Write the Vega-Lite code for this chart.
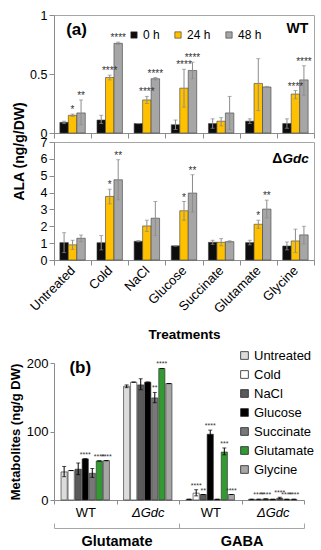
{
  "$schema": "https://vega.github.io/schema/vega-lite/v6.json",
  "padding": {"left": 9, "top": 8, "right": 4, "bottom": 4},
  "background": "white",
  "config": {
    "font": "Liberation Sans",
    "view": {"stroke": null},
    "axis": {"domainColor": "#8c8c8c", "tickColor": "#8c8c8c", "labelColor": "#000000", "titleColor": "#000000", "grid": false, "labelFontSize": 12.5}
  },
  "datasets": {
    "wt": [
      {"treatment": "Untreated", "time": "0 h", "value": 0.09, "lo": 0.08, "hi": 0.10, "sig": ""},
      {"treatment": "Untreated", "time": "24 h", "value": 0.15, "lo": 0.14, "hi": 0.16, "sig": "*"},
      {"treatment": "Untreated", "time": "48 h", "value": 0.17, "lo": 0.07, "hi": 0.28, "sig": "**"},
      {"treatment": "Cold", "time": "0 h", "value": 0.11, "lo": 0.08, "hi": 0.15, "sig": ""},
      {"treatment": "Cold", "time": "24 h", "value": 0.47, "lo": 0.45, "hi": 0.49, "sig": "****"},
      {"treatment": "Cold", "time": "48 h", "value": 0.76, "lo": 0.75, "hi": 0.77, "sig": "****"},
      {"treatment": "NaCl", "time": "0 h", "value": 0.08, "lo": 0.08, "hi": 0.08, "sig": ""},
      {"treatment": "NaCl", "time": "24 h", "value": 0.28, "lo": 0.25, "hi": 0.31, "sig": "****"},
      {"treatment": "NaCl", "time": "48 h", "value": 0.46, "lo": 0.45, "hi": 0.47, "sig": "****"},
      {"treatment": "Glucose", "time": "0 h", "value": 0.07, "lo": 0.03, "hi": 0.11, "sig": ""},
      {"treatment": "Glucose", "time": "24 h", "value": 0.38, "lo": 0.22, "hi": 0.54, "sig": "****"},
      {"treatment": "Glucose", "time": "48 h", "value": 0.53, "lo": 0.46, "hi": 0.60, "sig": "****"},
      {"treatment": "Succinate", "time": "0 h", "value": 0.08, "lo": 0.04, "hi": 0.12, "sig": ""},
      {"treatment": "Succinate", "time": "24 h", "value": 0.10, "lo": 0.06, "hi": 0.13, "sig": ""},
      {"treatment": "Succinate", "time": "48 h", "value": 0.17, "lo": 0.03, "hi": 0.31, "sig": ""},
      {"treatment": "Glutamate", "time": "0 h", "value": 0.10, "lo": 0.08, "hi": 0.12, "sig": ""},
      {"treatment": "Glutamate", "time": "24 h", "value": 0.42, "lo": 0.19, "hi": 0.63, "sig": ""},
      {"treatment": "Glutamate", "time": "48 h", "value": 0.39, "lo": 0.385, "hi": 0.395, "sig": ""},
      {"treatment": "Glycine", "time": "0 h", "value": 0.08, "lo": 0.04, "hi": 0.12, "sig": ""},
      {"treatment": "Glycine", "time": "24 h", "value": 0.33, "lo": 0.29, "hi": 0.36, "sig": "****"},
      {"treatment": "Glycine", "time": "48 h", "value": 0.45, "lo": 0.32, "hi": 0.57, "sig": "****"}
    ],
    "gdc": [
      {"treatment": "Untreated", "time": "0 h", "value": 1.03, "lo": 0.44, "hi": 1.62, "sig": ""},
      {"treatment": "Untreated", "time": "24 h", "value": 0.9, "lo": 0.63, "hi": 1.17, "sig": ""},
      {"treatment": "Untreated", "time": "48 h", "value": 1.29, "lo": 1.09, "hi": 1.48, "sig": ""},
      {"treatment": "Cold", "time": "0 h", "value": 1.03, "lo": 0.6, "hi": 1.45, "sig": ""},
      {"treatment": "Cold", "time": "24 h", "value": 3.77, "lo": 3.33, "hi": 4.2, "sig": "*"},
      {"treatment": "Cold", "time": "48 h", "value": 4.76, "lo": 3.57, "hi": 5.95, "sig": "**"},
      {"treatment": "NaCl", "time": "0 h", "value": 1.11, "lo": 1.08, "hi": 1.15, "sig": ""},
      {"treatment": "NaCl", "time": "24 h", "value": 2.02, "lo": 1.69, "hi": 2.36, "sig": ""},
      {"treatment": "NaCl", "time": "48 h", "value": 2.48, "lo": 1.45, "hi": 3.47, "sig": ""},
      {"treatment": "Glucose", "time": "0 h", "value": 0.84, "lo": 0.82, "hi": 0.86, "sig": ""},
      {"treatment": "Glucose", "time": "24 h", "value": 2.92, "lo": 2.36, "hi": 3.47, "sig": "*"},
      {"treatment": "Glucose", "time": "48 h", "value": 3.97, "lo": 2.84, "hi": 5.06, "sig": "**"},
      {"treatment": "Succinate", "time": "0 h", "value": 1.05, "lo": 0.93, "hi": 1.17, "sig": ""},
      {"treatment": "Succinate", "time": "24 h", "value": 1.05, "lo": 0.84, "hi": 1.27, "sig": ""},
      {"treatment": "Succinate", "time": "48 h", "value": 1.09, "lo": 1.04, "hi": 1.14, "sig": ""},
      {"treatment": "Glutamate", "time": "0 h", "value": 1.03, "lo": 0.9, "hi": 1.17, "sig": ""},
      {"treatment": "Glutamate", "time": "24 h", "value": 2.12, "lo": 1.88, "hi": 2.36, "sig": "*"},
      {"treatment": "Glutamate", "time": "48 h", "value": 3.02, "lo": 2.5, "hi": 3.55, "sig": "**"},
      {"treatment": "Glycine", "time": "0 h", "value": 0.83, "lo": 0.6, "hi": 1.07, "sig": ""},
      {"treatment": "Glycine", "time": "24 h", "value": 1.13, "lo": 0.44, "hi": 1.83, "sig": ""},
      {"treatment": "Glycine", "time": "48 h", "value": 1.49, "lo": 0.95, "hi": 2.0, "sig": ""}
    ],
    "met": [
      {"group": "Glu-WT", "treatment": "Untreated", "value": 41, "lo": 34, "hi": 49, "sig": ""},
      {"group": "Glu-WT", "treatment": "Cold", "value": 43, "lo": 43, "hi": 43, "sig": ""},
      {"group": "Glu-WT", "treatment": "NaCl", "value": 45, "lo": 37, "hi": 54, "sig": ""},
      {"group": "Glu-WT", "treatment": "Glucose", "value": 60, "lo": 60, "hi": 60, "sig": "****"},
      {"group": "Glu-WT", "treatment": "Succinate", "value": 39, "lo": 33, "hi": 46, "sig": ""},
      {"group": "Glu-WT", "treatment": "Glutamate", "value": 57, "lo": 57, "hi": 57, "sig": "****"},
      {"group": "Glu-WT", "treatment": "Glycine", "value": 57.5, "lo": 57.5, "hi": 57.5, "sig": "****"},
      {"group": "Glu-Gdc", "treatment": "Untreated", "value": 166, "lo": 164, "hi": 168, "sig": ""},
      {"group": "Glu-Gdc", "treatment": "Cold", "value": 172, "lo": 172, "hi": 172, "sig": ""},
      {"group": "Glu-Gdc", "treatment": "NaCl", "value": 168, "lo": 161, "hi": 177, "sig": ""},
      {"group": "Glu-Gdc", "treatment": "Glucose", "value": 172, "lo": 172, "hi": 172, "sig": ""},
      {"group": "Glu-Gdc", "treatment": "Succinate", "value": 149, "lo": 142, "hi": 157, "sig": "**"},
      {"group": "Glu-Gdc", "treatment": "Glutamate", "value": 192, "lo": 192, "hi": 192, "sig": "****"},
      {"group": "Glu-Gdc", "treatment": "Glycine", "value": 170, "lo": 170, "hi": 170, "sig": ""},
      {"group": "GABA-WT", "treatment": "Untreated", "value": 1, "lo": 1, "hi": 1, "sig": ""},
      {"group": "GABA-WT", "treatment": "Cold", "value": 10, "lo": 6, "hi": 15, "sig": "****"},
      {"group": "GABA-WT", "treatment": "NaCl", "value": 8, "lo": 8, "hi": 8, "sig": "**"},
      {"group": "GABA-WT", "treatment": "Glucose", "value": 96, "lo": 93, "hi": 102, "sig": "****"},
      {"group": "GABA-WT", "treatment": "Succinate", "value": 1, "lo": 1, "hi": 1, "sig": ""},
      {"group": "GABA-WT", "treatment": "Glutamate", "value": 70, "lo": 66, "hi": 76, "sig": "***"},
      {"group": "GABA-WT", "treatment": "Glycine", "value": 8, "lo": 8, "hi": 8, "sig": "****"},
      {"group": "GABA-Gdc", "treatment": "Untreated", "value": 1, "lo": 1, "hi": 1, "sig": ""},
      {"group": "GABA-Gdc", "treatment": "Cold", "value": 1, "lo": 1, "hi": 1, "sig": "****"},
      {"group": "GABA-Gdc", "treatment": "NaCl", "value": 1.5, "lo": 1.5, "hi": 1.5, "sig": "****"},
      {"group": "GABA-Gdc", "treatment": "Glucose", "value": 1, "lo": 1, "hi": 1, "sig": ""},
      {"group": "GABA-Gdc", "treatment": "Succinate", "value": 2.5, "lo": 1.5, "hi": 4, "sig": "****"},
      {"group": "GABA-Gdc", "treatment": "Glutamate", "value": 1, "lo": 1, "hi": 1, "sig": "****"},
      {"group": "GABA-Gdc", "treatment": "Glycine", "value": 1, "lo": 1, "hi": 1, "sig": "****"}
    ],
    "brackets": [{"metabolite": "Glutamate"}, {"metabolite": "GABA"}]
  },
  "spacing": 7,
  "resolve": {"scale": {"color": "independent", "xOffset": "independent", "x": "independent", "y": "independent"}, "legend": {"color": "independent"}},
  "vconcat": [
    {
      "bounds": "flush",
      "spacing": 9,
      "resolve": {"scale": {"color": "independent", "y": "independent"}, "axis": {"y": "independent"}, "legend": {"color": "independent"}},
      "vconcat": [
        {
          "width": 260,
          "height": 118,
          "view": {"stroke": "#a6a6a6"},
          "encoding": {
            "x": {"field": "treatment", "type": "nominal", "sort": ["Untreated", "Cold", "NaCl", "Glucose", "Succinate", "Glutamate", "Glycine"], "scale": {"paddingInner": 0, "paddingOuter": 0}, "axis": {"labels": false, "title": null, "tickBand": "extent", "tickSize": 5}}
          },
          "layer": [
            {
              "data": {"name": "wt"},
              "mark": {"type": "bar", "stroke": "#404040", "strokeWidth": 0.6},
              "encoding": {
                "xOffset": {"field": "time", "type": "nominal", "sort": ["0 h", "24 h", "48 h"], "scale": {"domain": ["0 h", "24 h", "48 h"], "paddingInner": 0, "paddingOuter": 0.69}},
                "y": {"field": "value", "type": "quantitative", "scale": {"domain": [0, 1]}, "axis": {"values": [0, 0.5, 1], "format": "~g", "title": null, "tickSize": 5, "labelOverlap": false}},
                "color": {"field": "time", "type": "nominal", "sort": ["0 h", "24 h", "48 h"], "scale": {"domain": ["0 h", "24 h", "48 h"], "range": ["#0d0d0d", "#ffc000", "#a6a6a6"]}, "legend": {"orient": "none", "direction": "horizontal", "legendX": 74, "legendY": 14, "title": null, "symbolType": "square", "symbolSize": 40, "symbolStrokeColor": "#303030", "symbolStrokeWidth": 0.6, "labelFontSize": 12, "labelOffset": 3, "columnPadding": 12}}
              }
            },
            {
              "data": {"name": "wt"},
              "mark": {"type": "rule", "color": "#8c8c8c", "strokeWidth": 1},
              "encoding": {"xOffset": {"field": "time", "type": "nominal", "sort": ["0 h", "24 h", "48 h"], "scale": {"domain": ["0 h", "24 h", "48 h"], "paddingInner": 0, "paddingOuter": 0.69}}, "y": {"field": "lo", "type": "quantitative"}, "y2": {"field": "hi"}}
            },
            {
              "data": {"name": "wt"},
              "mark": {"type": "tick", "orient": "horizontal", "color": "#8c8c8c", "size": 4, "thickness": 1},
              "encoding": {"xOffset": {"field": "time", "type": "nominal", "sort": ["0 h", "24 h", "48 h"], "scale": {"domain": ["0 h", "24 h", "48 h"], "paddingInner": 0, "paddingOuter": 0.69}}, "y": {"field": "hi", "type": "quantitative"}}
            },
            {
              "data": {"name": "wt"},
              "mark": {"type": "tick", "orient": "horizontal", "color": "#8c8c8c", "size": 4, "thickness": 1},
              "encoding": {"xOffset": {"field": "time", "type": "nominal", "sort": ["0 h", "24 h", "48 h"], "scale": {"domain": ["0 h", "24 h", "48 h"], "paddingInner": 0, "paddingOuter": 0.69}}, "y": {"field": "lo", "type": "quantitative"}}
            },
            {
              "data": {"name": "wt"},
              "mark": {"type": "text", "fontSize": 10, "color": "#333333", "baseline": "bottom", "dy": 1},
              "encoding": {"xOffset": {"field": "time", "type": "nominal", "sort": ["0 h", "24 h", "48 h"], "scale": {"domain": ["0 h", "24 h", "48 h"], "paddingInner": 0, "paddingOuter": 0.69}}, "y": {"field": "hi", "type": "quantitative"}, "text": {"field": "sig"}}
            },
            {
              "data": {"values": [{"label": "(a)"}]},
              "mark": {"type": "text", "fontSize": 17, "fontWeight": "bold", "align": "center", "baseline": "middle", "dx": 4},
              "encoding": {"x": {"datum": "Untreated"}, "y": {"datum": 0.87}, "text": {"field": "label"}}
            },
            {
              "data": {"values": [{"label": "WT"}]},
              "mark": {"type": "text", "fontSize": 14, "fontWeight": "bold", "align": "center", "baseline": "middle", "dx": 2},
              "encoding": {"x": {"datum": "Glycine"}, "y": {"datum": 0.88}, "text": {"field": "label"}}
            }
          ]
        },
        {
          "width": 260,
          "height": 118,
          "view": {"stroke": "#a6a6a6"},
          "encoding": {
            "x": {"field": "treatment", "type": "nominal", "sort": ["Untreated", "Cold", "NaCl", "Glucose", "Succinate", "Glutamate", "Glycine"], "scale": {"paddingInner": 0, "paddingOuter": 0}, "axis": {"title": "Treatments", "titleFontSize": 13.5, "titleFontWeight": "bold", "titlePadding": 12, "labelAngle": -45, "labelAlign": "right", "labelBaseline": "middle", "labelFontSize": 13, "labelPadding": 3, "tickBand": "extent", "tickSize": 5}}
          },
          "layer": [
            {
              "data": {"name": "gdc"},
              "mark": {"type": "bar", "stroke": "#404040", "strokeWidth": 0.6},
              "encoding": {
                "xOffset": {"field": "time", "type": "nominal", "sort": ["0 h", "24 h", "48 h"], "scale": {"domain": ["0 h", "24 h", "48 h"], "paddingInner": 0, "paddingOuter": 0.69}},
                "y": {"field": "value", "type": "quantitative", "scale": {"domain": [0, 7], "nice": false}, "axis": {"tickCount": 8, "title": "ALA (ng/g/DW)", "titleFontSize": 14, "titleFontWeight": "bold", "titleY": 9, "titlePadding": 14, "tickSize": 5, "labelOverlap": false}},
                "color": {"field": "time", "type": "nominal", "sort": ["0 h", "24 h", "48 h"], "scale": {"domain": ["0 h", "24 h", "48 h"], "range": ["#0d0d0d", "#ffc000", "#a6a6a6"]}, "legend": null}
              }
            },
            {
              "data": {"name": "gdc"},
              "mark": {"type": "rule", "color": "#8c8c8c", "strokeWidth": 1},
              "encoding": {"xOffset": {"field": "time", "type": "nominal", "sort": ["0 h", "24 h", "48 h"], "scale": {"domain": ["0 h", "24 h", "48 h"], "paddingInner": 0, "paddingOuter": 0.69}}, "y": {"field": "lo", "type": "quantitative"}, "y2": {"field": "hi"}}
            },
            {
              "data": {"name": "gdc"},
              "mark": {"type": "tick", "orient": "horizontal", "color": "#8c8c8c", "size": 4, "thickness": 1},
              "encoding": {"xOffset": {"field": "time", "type": "nominal", "sort": ["0 h", "24 h", "48 h"], "scale": {"domain": ["0 h", "24 h", "48 h"], "paddingInner": 0, "paddingOuter": 0.69}}, "y": {"field": "hi", "type": "quantitative"}}
            },
            {
              "data": {"name": "gdc"},
              "mark": {"type": "tick", "orient": "horizontal", "color": "#8c8c8c", "size": 4, "thickness": 1},
              "encoding": {"xOffset": {"field": "time", "type": "nominal", "sort": ["0 h", "24 h", "48 h"], "scale": {"domain": ["0 h", "24 h", "48 h"], "paddingInner": 0, "paddingOuter": 0.69}}, "y": {"field": "lo", "type": "quantitative"}}
            },
            {
              "data": {"name": "gdc"},
              "mark": {"type": "text", "fontSize": 10, "color": "#333333", "baseline": "bottom", "dy": 1},
              "encoding": {"xOffset": {"field": "time", "type": "nominal", "sort": ["0 h", "24 h", "48 h"], "scale": {"domain": ["0 h", "24 h", "48 h"], "paddingInner": 0, "paddingOuter": 0.69}}, "y": {"field": "hi", "type": "quantitative"}, "text": {"field": "sig"}}
            },
            {
              "data": {"values": [{"label": "Δ"}]},
              "mark": {"type": "text", "fontSize": 14, "fontWeight": "bold", "align": "right", "baseline": "middle", "dx": -13},
              "encoding": {"x": {"datum": "Glycine"}, "y": {"datum": 6.0}, "text": {"field": "label"}}
            },
            {
              "data": {"values": [{"label": "Gdc"}]},
              "mark": {"type": "text", "fontSize": 13.5, "fontWeight": "bold", "fontStyle": "italic", "align": "left", "baseline": "middle", "dx": -13},
              "encoding": {"x": {"datum": "Glycine"}, "y": {"datum": 6.0}, "text": {"field": "label"}}
            }
          ]
        }
      ]
    },
    {
      "spacing": 0,
      "resolve": {"scale": {"x": "independent"}},
      "vconcat": [
        {
          "width": 250,
          "height": 137,
          "encoding": {
            "x": {"field": "group", "type": "nominal", "sort": ["Glu-WT", "Glu-Gdc", "GABA-WT", "GABA-Gdc"], "scale": {"paddingInner": 0, "paddingOuter": 0}, "axis": {"title": null, "labelAngle": 0, "labelFontSize": 13, "labelPadding": 2, "tickBand": "extent", "tickSize": 4, "labelExpr": "(datum.value == 'Glu-WT' || datum.value == 'GABA-WT') ? 'WT' : ((datum.value == 'Glu-Gdc' || datum.value == 'GABA-Gdc') ? 'ΔGdc' : '')", "labelFontStyle": {"condition": {"test": "datum.value == 'Glu-WT' || datum.value == 'GABA-WT'", "value": "normal"}, "value": "italic"}}}
          },
          "layer": [
            {
              "data": {"name": "met"},
              "mark": {"type": "bar", "stroke": "#262626", "strokeWidth": 0.6},
              "encoding": {
                "xOffset": {"field": "treatment", "type": "nominal", "sort": ["Untreated", "Cold", "NaCl", "Glucose", "Succinate", "Glutamate", "Glycine"], "scale": {"domain": ["Untreated", "Cold", "NaCl", "Glucose", "Succinate", "Glutamate", "Glycine"], "paddingInner": 0.12, "paddingOuter": 1.0}},
                "y": {"field": "value", "type": "quantitative", "scale": {"domain": [0, 200]}, "axis": {"values": [0, 100, 200], "title": "Metabolites (ng/g DW)", "titleFontSize": 13, "titleFontWeight": "bold", "titlePadding": 4, "labelFontSize": 13, "tickSize": 4}},
                "color": {"field": "treatment", "type": "nominal", "sort": ["Untreated", "Cold", "NaCl", "Glucose", "Succinate", "Glutamate", "Glycine"], "scale": {"domain": ["Untreated", "Cold", "NaCl", "Glucose", "Succinate", "Glutamate", "Glycine"], "range": ["#dcdcdc", "#ffffff", "#5a5a5a", "#000000", "#787878", "#339933", "#a6a6a6"]}, "legend": {"orient": "none", "legendX": 184, "legendY": -14, "title": null, "symbolType": "square", "symbolSize": 60, "symbolStrokeColor": "#262626", "symbolStrokeWidth": 0.8, "labelFontSize": 13, "labelOffset": 3, "rowPadding": 5}}
              }
            },
            {
              "data": {"name": "met"},
              "mark": {"type": "rule", "color": "#000000", "strokeWidth": 1},
              "encoding": {"xOffset": {"field": "treatment", "type": "nominal", "sort": ["Untreated", "Cold", "NaCl", "Glucose", "Succinate", "Glutamate", "Glycine"], "scale": {"domain": ["Untreated", "Cold", "NaCl", "Glucose", "Succinate", "Glutamate", "Glycine"], "paddingInner": 0.12, "paddingOuter": 1.0}}, "y": {"field": "lo", "type": "quantitative"}, "y2": {"field": "hi"}}
            },
            {
              "data": {"name": "met"},
              "mark": {"type": "tick", "orient": "horizontal", "color": "#000000", "size": 4, "thickness": 1},
              "encoding": {"xOffset": {"field": "treatment", "type": "nominal", "sort": ["Untreated", "Cold", "NaCl", "Glucose", "Succinate", "Glutamate", "Glycine"], "scale": {"domain": ["Untreated", "Cold", "NaCl", "Glucose", "Succinate", "Glutamate", "Glycine"], "paddingInner": 0.12, "paddingOuter": 1.0}}, "y": {"field": "hi", "type": "quantitative"}}
            },
            {
              "data": {"name": "met"},
              "mark": {"type": "tick", "orient": "horizontal", "color": "#000000", "size": 4, "thickness": 1},
              "encoding": {"xOffset": {"field": "treatment", "type": "nominal", "sort": ["Untreated", "Cold", "NaCl", "Glucose", "Succinate", "Glutamate", "Glycine"], "scale": {"domain": ["Untreated", "Cold", "NaCl", "Glucose", "Succinate", "Glutamate", "Glycine"], "paddingInner": 0.12, "paddingOuter": 1.0}}, "y": {"field": "lo", "type": "quantitative"}}
            },
            {
              "data": {"name": "met"},
              "mark": {"type": "text", "fontSize": 7, "color": "#333333", "baseline": "bottom", "dy": -1},
              "encoding": {"xOffset": {"field": "treatment", "type": "nominal", "sort": ["Untreated", "Cold", "NaCl", "Glucose", "Succinate", "Glutamate", "Glycine"], "scale": {"domain": ["Untreated", "Cold", "NaCl", "Glucose", "Succinate", "Glutamate", "Glycine"], "paddingInner": 0.12, "paddingOuter": 1.0}}, "y": {"field": "hi", "type": "quantitative"}, "text": {"field": "sig"}}
            },
            {
              "data": {"values": [{"label": "(b)"}]},
              "mark": {"type": "text", "fontSize": 17, "fontWeight": "bold", "align": "center", "baseline": "middle", "dx": -5},
              "encoding": {"x": {"datum": "Glu-WT"}, "y": {"datum": 192}, "text": {"field": "label"}}
            }
          ]
        },
        {
          "width": 250,
          "height": 5,
          "data": {"name": "brackets"},
          "mark": {"type": "text", "text": ""},
          "encoding": {
            "x": {"field": "metabolite", "type": "nominal", "sort": ["Glutamate", "GABA"], "scale": {"paddingInner": 0, "paddingOuter": 0}, "axis": {"title": null, "labelAngle": 0, "labelFontSize": 14.5, "labelFontWeight": "bold", "tickBand": "extent", "tickSize": -5, "labelPadding": 11, "domainColor": "#a6a6a6", "tickColor": "#a6a6a6"}}
          }
        }
      ]
    }
  ]
}
